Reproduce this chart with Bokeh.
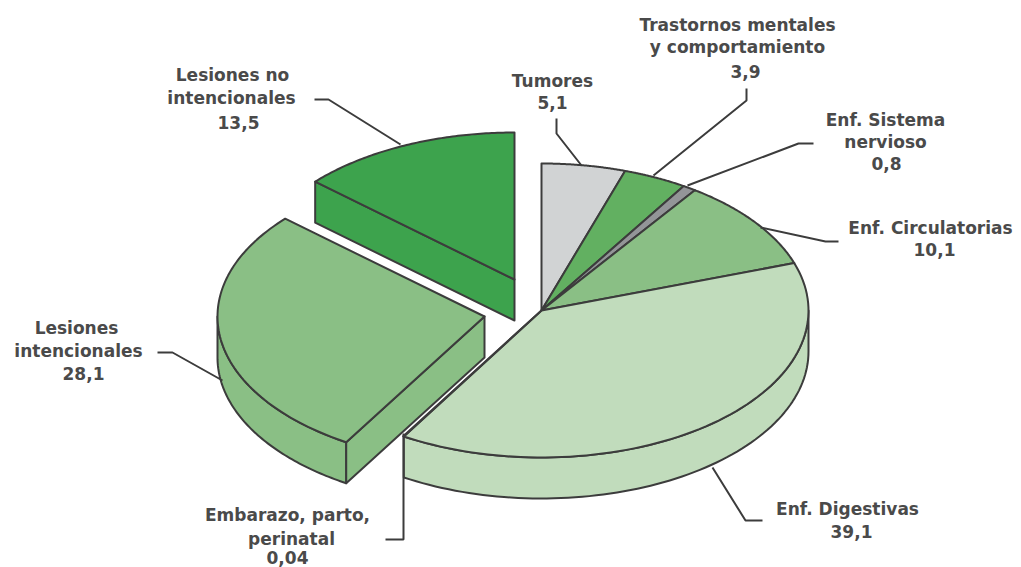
import numpy as np
from bokeh.plotting import figure
from bokeh.embed import file_html
from bokeh.resources import INLINE
from bokeh.core.properties import value

categories = ["Tumores", "Trastornos mentales y comportamiento", "Enf. Sistema nervioso",
              "Enf. Circulatorias", "Enf. Digestivas", "Embarazo, parto, perinatal",
              "Lesiones intencionales", "Lesiones no intencionales"]
values = [5.1, 3.9, 0.8, 10.1, 39.1, 0.04, 28.1, 13.5]
colors = ["#d1d3d4", "#62b061", "#939598", "#8abf85", "#c1dcbc", "#c1dcbc", "#8abf85", "#3da34d"]
# apex of every slice (the two injury slices are pulled out of the pie)
cx = [541, 541, 541, 541, 541, 541, 484, 514]
cy = [310, 310, 310, 310, 310, 310, 316, 279]
RX, RY, DEPTH = 267, 147, 41
OUT = "#3c3c3c"

label_lines = [["Tumores", "5,1"], ["Trastornos mentales", "y comportamiento", "3,9"],
               ["Enf. Sistema", "nervioso", "0,8"], ["Enf. Circulatorias", "10,1"],
               ["Enf. Digestivas", "39,1"], ["Embarazo, parto,", "perinatal", "0,04"],
               ["Lesiones", "intencionales", "28,1"], ["Lesiones no", "intencionales", "13,5"]]
label_x = [[552, 552], [737, 737, 745], [885, 885, 886], [930, 934], [847, 851],
           [287, 291, 287], [76, 78, 83], [232, 231, 238]]
label_y = [[80, 102], [24, 46, 71], [119, 141, 163], [227, 249], [508, 531],
           [514, 538, 557], [327, 350, 373], [74, 97, 122]]
leaders = [[(556, 118), (556, 133), (581, 165)],
           [(746, 88), (746, 100), (653, 175)],
           [(813, 143), (798, 143), (687, 185)],
           [(838, 241), (825, 241), (760, 227)],
           [(762, 520), (745, 520), (712, 467)],
           [(385, 539), (403, 539), (403, 433)],
           [(157, 352), (172, 352), (222, 380)],
           [(314, 99), (328, 99), (400, 144)]]

p = figure(width=1021, height=567, x_range=(0, 1021), y_range=(567, 0),
           toolbar_location=None, output_backend="svg", min_border=0,
           outline_line_color=None, background_fill_color="white")
p.axis.visible = False
p.grid.visible = False

total = sum(values)
edges = np.cumsum([0] + values) / total * 2 * np.pi


def rim(i, th):
    return cx[i] + RX * np.sin(th), cy[i] - RY * np.cos(th)


def wall(i, a, b):
    t = np.linspace(a, b, 80)
    x, y = rim(i, t)
    p.patch(np.r_[x, x[::-1]], np.r_[y, y[::-1] + DEPTH], fill_color=colors[i],
            line_color=OUT, line_width=2, line_join="round")


def cut(i, th):
    x, y = rim(i, th)
    p.patch([x, cx[i], cx[i], x], [y, cy[i], cy[i] + DEPTH, y + DEPTH], fill_color=colors[i],
            line_color=OUT, line_width=2, line_join="round")


def top(i):
    t = np.linspace(edges[i], edges[i + 1], 80)
    x, y = rim(i, t)
    p.patch(np.r_[cx[i], x], np.r_[cy[i], y], fill_color=colors[i],
            line_color=OUT, line_width=2, line_join="round")


# back to front
cut(7, edges[7])
top(7)
wall(4, np.pi / 2, edges[5])
for i in range(6):
    top(i)
wall(6, edges[6], 1.5 * np.pi)
cut(6, edges[6])
top(6)

for pts in leaders:
    xs, ys = zip(*pts)
    p.line(list(xs), list(ys), line_color="#3c3c3c", line_width=2)

for lines, xs, ys in zip(label_lines, label_x, label_y):
    p.text(xs, ys, text=lines, text_font=value("DejaVu Sans"), text_font_size="17px",
           text_font_style="bold", text_align="center", text_baseline="middle", text_color="#4a4a4a")

open("out.html", "w").write(file_html(p, INLINE))
